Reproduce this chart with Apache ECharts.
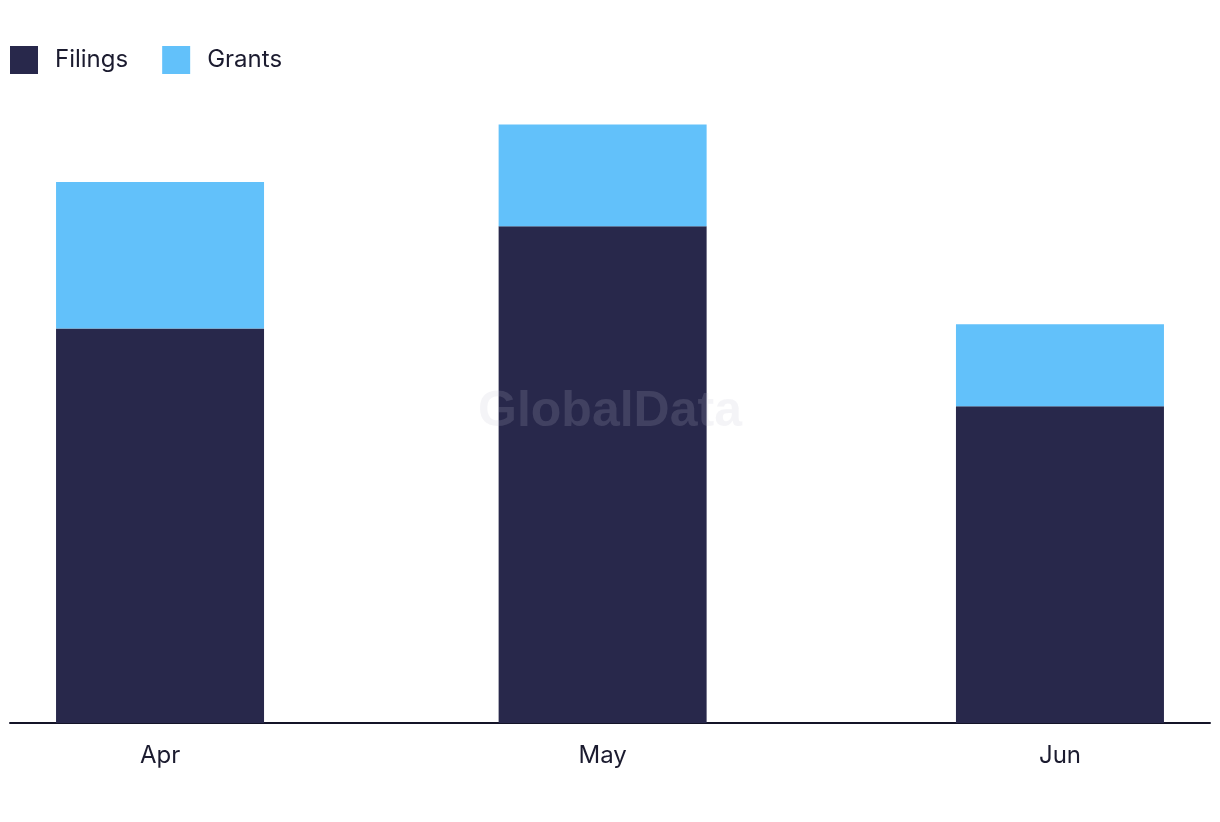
<!DOCTYPE html>
<html>
<head>
<meta charset="utf-8">
<script src="https://cdn.jsdelivr.net/npm/echarts@6/dist/echarts.min.js"></script>
<style>
  html, body { margin: 0; padding: 0; background: #ffffff; }
  #chart { width: 1220px; height: 822px; }
</style>
</head>
<body>
<div id="chart"></div>
<script>
// ---- data ----
const months = ['Apr', 'May', 'Jun'];
const monthDates = ['2024-04-01', '2024-05-01', '2024-06-01'];
const filings = [38, 47.85, 30.5];
const grants = [14.1, 9.8, 7.9];

// position of each month on a day-based axis (days since first month start)
const DAY = 86400000;
const t0 = Date.UTC(2024, 3, 1);
const dayPos = monthDates.map(s => Math.round((Date.parse(s + 'T00:00:00Z') - t0) / DAY));
const labelByPos = {};
dayPos.forEach((p, i) => { labelByPos[p] = months[i]; });

const chart = echarts.init(document.getElementById('chart'));
const FONT = 'Inter, "Noto Sans", sans-serif';
chart.setOption({
  animation: false,
  textStyle: { fontFamily: FONT },
  legend: {
    left: 10, top: 46, padding: 0,
    itemWidth: 28, itemHeight: 28, itemGap: 34,
    icon: 'rect',
    textStyle: { fontSize: 24, color: '#1b1b2f', fontFamily: FONT, padding: [0, 0, 0, 12] },
    data: ['Filings', 'Grants']
  },
  grid: { left: 10, right: 10, top: 100, bottom: 99, containLabel: false },
  xAxis: {
    type: 'value',
    min: dayPos[0] - 10.17,
    max: dayPos[2] + 10.17,
    axisLine: { show: true, lineStyle: { color: '#141428', width: 2 } },
    axisTick: { show: false },
    splitLine: { show: false },
    axisLabel: {
      customValues: dayPos,
      margin: 21,
      fontSize: 24,
      color: '#1b1b2f',
      fontFamily: FONT,
      formatter: v => labelByPos[Math.round(v)] || ''
    }
  },
  yAxis: {
    type: 'value', min: 0, max: 60,
    show: false,
    splitLine: { show: false }
  },
  series: [
    {
      name: 'Filings', type: 'bar', stack: 'total', barWidth: 208,
      itemStyle: { color: '#28284b' },
      encode: { x: 1, y: 0 },
      data: dayPos.map((p, i) => [filings[i], p])
    },
    {
      name: 'Grants', type: 'bar', stack: 'total', barWidth: 208,
      itemStyle: { color: '#62c1fa' },
      encode: { x: 1, y: 0 },
      data: dayPos.map((p, i) => [grants[i], p])
    }
  ],
  graphic: [{
    type: 'text', left: 'center', top: 387, z: 100,
    style: {
      text: 'GlobalData',
      font: 'bold 50px "Liberation Sans", Arial, sans-serif',
      fill: 'rgba(190,190,210,0.17)'
    }
  }]
});
</script>
</body>
</html>
